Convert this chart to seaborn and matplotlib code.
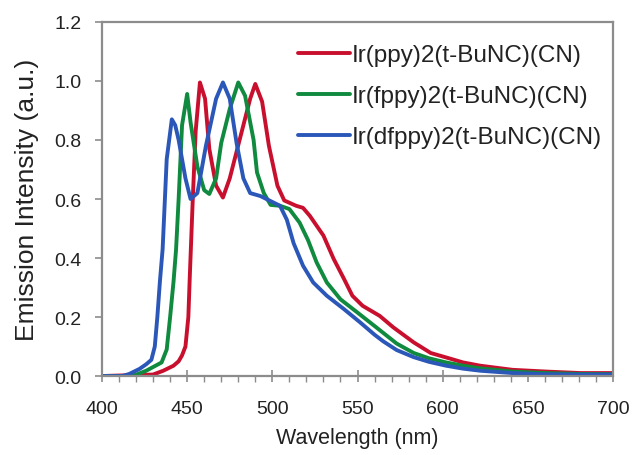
import matplotlib
matplotlib.use("Agg")
import matplotlib.pyplot as plt
import seaborn as sns
import pandas as pd
from matplotlib.ticker import MultipleLocator, FormatStrFormatter

# --- data ---
labels = ["Ir(ppy)2(t-BuNC)(CN)", "Ir(fppy)2(t-BuNC)(CN)", "Ir(dfppy)2(t-BuNC)(CN)"]
colors = ["#C8102E", "#0F8A3E", "#2B57B8"]

wl_ppy = [400, 430, 436, 442, 445, 447, 449, 450.7, 451.5, 452.3, 453.3, 455, 457.5, 460.5, 463, 467, 471, 475,
          479, 483, 487, 490, 494, 498, 503, 507, 514, 518, 522, 530, 536, 542, 547, 553, 563, 571, 583, 593, 602,
          612, 622, 641, 661, 681, 700]
int_ppy = [0, 0.005, 0.018, 0.035, 0.05, 0.07, 0.1, 0.2, 0.33, 0.45, 0.60, 0.83, 0.995, 0.94, 0.77, 0.645, 0.605,
           0.67, 0.76, 0.85, 0.94, 0.99, 0.93, 0.78, 0.645, 0.595, 0.577, 0.57, 0.543, 0.476, 0.397, 0.33, 0.272,
           0.238, 0.204, 0.165, 0.114, 0.078, 0.063, 0.046, 0.035, 0.021, 0.015, 0.01, 0.01]

wl_fppy = [400, 418, 426, 435, 438, 440, 442, 443.5, 445, 447, 450, 452, 456, 460, 463, 467, 470, 475, 480, 484,
           489, 491, 495, 499, 504.5, 510, 516, 521, 526, 532, 540, 550, 561, 573, 583, 592, 602, 612, 622, 641,
           661, 680, 700]
int_fppy = [0, 0, 0.018, 0.046, 0.09, 0.2, 0.32, 0.43, 0.60, 0.85, 0.956, 0.86, 0.71, 0.63, 0.617, 0.67, 0.79,
            0.905, 0.995, 0.95, 0.80, 0.69, 0.62, 0.58, 0.577, 0.566, 0.52, 0.46, 0.385, 0.317, 0.26, 0.215, 0.165,
            0.11, 0.078, 0.06, 0.046, 0.035, 0.026, 0.015, 0.01, 0.007, 0.006]

wl_dfppy = [400, 412, 416, 422, 426, 429, 431, 432.5, 434, 435.6, 438, 441, 443, 445, 449, 452, 456, 461, 467, 471,
            475, 479, 483, 487, 493, 500, 504.5, 508.5, 512.5, 518, 524, 532, 542, 551.5, 560, 565, 573, 583, 592,
            602, 612, 622, 641, 660, 680, 700]
int_dfppy = [0, 0, 0.007, 0.024, 0.04, 0.055, 0.1, 0.2, 0.32, 0.43, 0.735, 0.87, 0.85, 0.80, 0.67, 0.60, 0.62, 0.78,
             0.94, 0.995, 0.94, 0.79, 0.67, 0.62, 0.61, 0.59, 0.577, 0.53, 0.45, 0.374, 0.317, 0.272, 0.227, 0.182,
             0.14, 0.118, 0.088, 0.064, 0.048, 0.035, 0.025, 0.018, 0.01, 0.006, 0.005, 0.005]

xticks = [400, 450, 500, 550, 600, 650, 700]
yticks = [0.0, 0.2, 0.4, 0.6, 0.8, 1.0, 1.2]

frames = []
for lab, wl, it in zip(labels, [wl_ppy, wl_fppy, wl_dfppy], [int_ppy, int_fppy, int_dfppy]):
    frames.append(pd.DataFrame({"wl": wl, "I": it, "compound": lab}))
df = pd.concat(frames, ignore_index=True)

sns.set_theme(style="white")
plt.rcParams["font.family"] = ["Liberation Sans", "DejaVu Sans"]

fig = plt.figure(figsize=(6.35, 4.56), dpi=100)
ax = fig.add_axes([0.1606, 0.1732, 0.8048, 0.7764])

sns.lineplot(data=df, x="wl", y="I", hue="compound", hue_order=labels,
             palette=dict(zip(labels, colors)), linewidth=2.8, ax=ax, sort=False, estimator=None)

ax.set_xlim(400, 700)
ax.set_ylim(0, 1.2)
ax.set_xticks(xticks)
ax.set_yticks(yticks)
ax.xaxis.set_minor_locator(MultipleLocator(10))
ax.yaxis.set_major_formatter(FormatStrFormatter("%.1f"))

spine_c = "#8C8C8C"
for s in ax.spines.values():
    s.set_color(spine_c)
    s.set_linewidth(1.6)
    s.set_visible(True)

ax.tick_params(axis="x", which="major", direction="inout", length=9, width=1.2, color=spine_c,
               labelsize=14, pad=13, bottom=True)
ax.tick_params(axis="x", which="minor", direction="out", length=4, width=1.0, color=spine_c, bottom=True)
ax.tick_params(axis="y", which="major", direction="out", length=5, width=1.2, color=spine_c,
               labelsize=14, pad=10, left=True)
for lbl in ax.get_xticklabels() + ax.get_yticklabels():
    lbl.set_color("#222222")

ax.set_xlabel("Wavelength (nm)", fontsize=15.5, color="#222222", labelpad=7)
ax.set_ylabel("Emission Intensity (a.u.)", fontsize=19, color="#222222", labelpad=11)

leg = ax.legend(loc="upper left", bbox_to_anchor=(0.3836, 0.937), frameon=False, fontsize=17.5,
                handlelength=2.15, handletextpad=0.08, labelspacing=0.78, borderaxespad=0, borderpad=0)
for t in leg.get_texts():
    t.set_color("#222222")

fig.savefig("out.png", dpi=100)
